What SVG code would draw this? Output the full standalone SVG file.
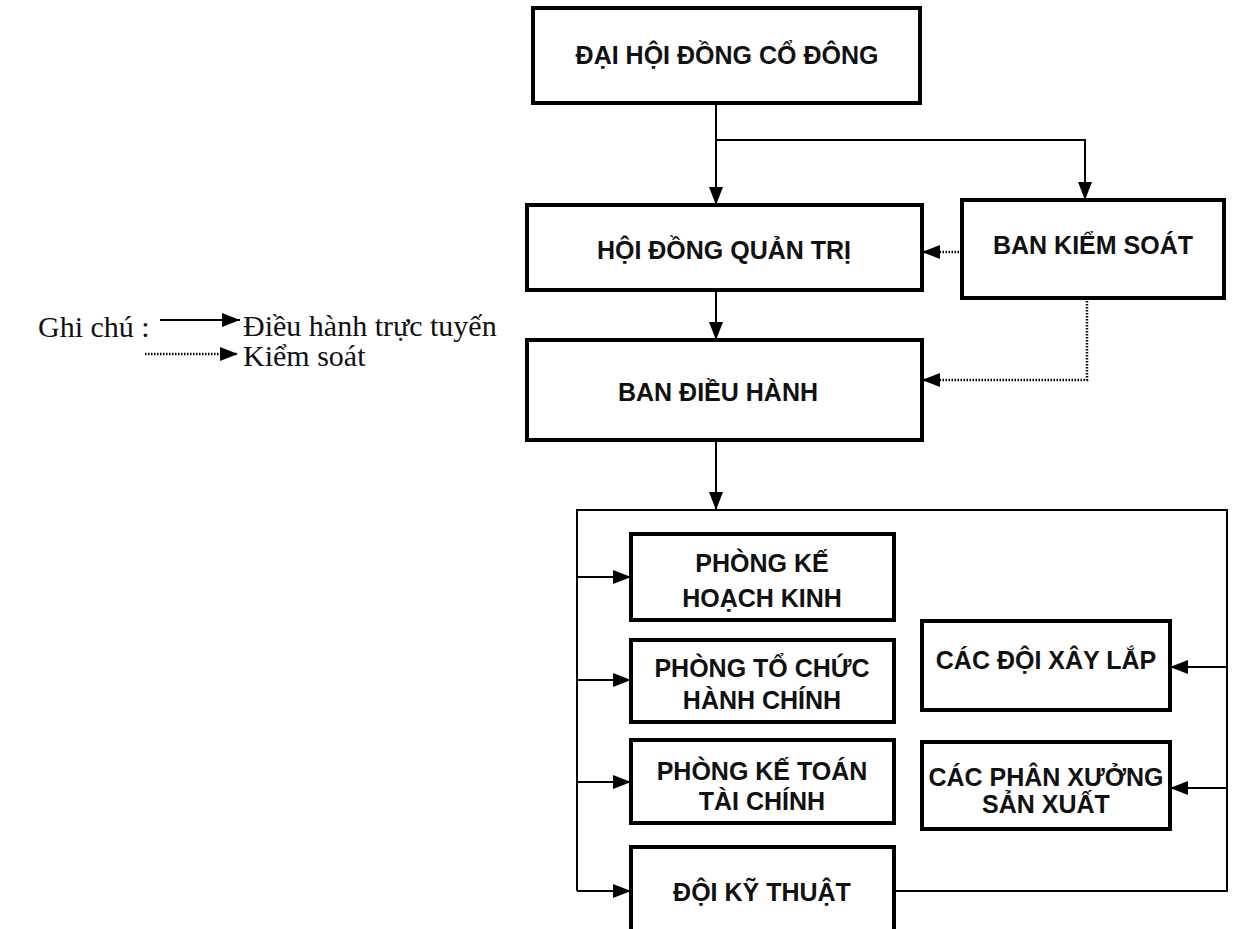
<svg xmlns="http://www.w3.org/2000/svg" width="1248" height="929" viewBox="0 0 1248 929">
<style>
.box{fill:#fff;stroke:#000;stroke-width:4}
.t{font-family:"Liberation Sans",Arial,sans-serif;font-weight:bold;font-size:25px;fill:#111;text-anchor:middle}
.lg{font-family:"Liberation Serif","Times New Roman",serif;font-size:30px;fill:#111}
.c{fill:none;stroke:#000;stroke-width:2}
.d{fill:none;stroke:#000;stroke-width:2.5;stroke-dasharray:1.5 1.5}
</style>
<defs>
<marker id="a" markerWidth="18" markerHeight="16" refX="18" refY="8" orient="auto" markerUnits="userSpaceOnUse" viewBox="0 0 18 16">
<path d="M0,1 L18,8 L0,15 Z" fill="#000"/>
</marker>
</defs>
<rect width="1248" height="929" fill="#fff"/>

<g id="legend">
<text class="lg" x="38" y="337">Ghi chú :</text>
<line class="c" x1="160" y1="320" x2="240" y2="320" marker-end="url(#a)"/>
<text class="lg" x="243" y="336">Điều hành trực tuyến</text>
<line class="d" x1="145" y1="354" x2="238" y2="354" marker-end="url(#a)"/>
<text class="lg" x="243" y="366">Kiểm soát</text>
</g>

<g id="connectors">
<polyline class="c" points="716,103 716,205" marker-end="url(#a)"/>
<polyline class="c" points="716,140 1085,140 1085,200" marker-end="url(#a)"/>
<polyline class="d" points="962,252 922,252" marker-end="url(#a)"/>
<polyline class="c" points="716,290 716,340" marker-end="url(#a)"/>
<polyline class="d" points="1087,298 1087,380 922,380" marker-end="url(#a)"/>
<polyline class="c" points="716,440 716,510" marker-end="url(#a)"/>
<polyline class="c" points="577,891 577,510 1227,510 1227,891 894,891"/>
<line class="c" x1="577" y1="577" x2="631" y2="577" marker-end="url(#a)"/>
<line class="c" x1="577" y1="680" x2="631" y2="680" marker-end="url(#a)"/>
<line class="c" x1="577" y1="782" x2="631" y2="782" marker-end="url(#a)"/>
<line class="c" x1="577" y1="891" x2="631" y2="891" marker-end="url(#a)"/>
<line class="c" x1="1227" y1="667" x2="1170" y2="667" marker-end="url(#a)"/>
<line class="c" x1="1227" y1="788" x2="1170" y2="788" marker-end="url(#a)"/>
</g>

<g id="dhdcd">
<rect class="box" x="533" y="8" width="387" height="95"/>
<text class="t" x="727" y="64">ĐẠI HỘI ĐỒNG CỔ ĐÔNG</text>
</g>
<g id="hdqt">
<rect class="box" x="527" y="205" width="395" height="85"/>
<text class="t" x="724" y="259">HỘI ĐỒNG QUẢN TRỊ</text>
</g>
<g id="bks">
<rect class="box" x="962" y="200" width="262" height="98"/>
<text class="t" x="1093" y="254">BAN KIỂM SOÁT</text>
</g>
<g id="bdh">
<rect class="box" x="527" y="340" width="395" height="100"/>
<text class="t" x="718" y="401">BAN ĐIỀU HÀNH</text>
</g>
<g id="pkhk">
<rect class="box" x="631" y="534" width="263" height="86"/>
<text class="t" x="762" y="572">PHÒNG KẾ</text>
<text class="t" x="762" y="607">HOẠCH KINH</text>
</g>
<g id="ptchc">
<rect class="box" x="631" y="640" width="263" height="82"/>
<text class="t" x="762" y="677">PHÒNG TỔ CHỨC</text>
<text class="t" x="762" y="709">HÀNH CHÍNH</text>
</g>
<g id="pktc">
<rect class="box" x="631" y="740" width="263" height="83"/>
<text class="t" x="762" y="780">PHÒNG KẾ TOÁN</text>
<text class="t" x="762" y="810">TÀI CHÍNH</text>
</g>
<g id="dkt">
<rect class="box" x="631" y="847" width="263" height="92"/>
<text class="t" x="762" y="901">ĐỘI KỸ THUẬT</text>
</g>
<g id="cdxl">
<rect class="box" x="922" y="621" width="248" height="89"/>
<text class="t" x="1046" y="669">CÁC ĐỘI XÂY LẮP</text>
</g>
<g id="cpxsx">
<rect class="box" x="922" y="742" width="248" height="87"/>
<text class="t" x="1046" y="786">CÁC PHÂN XƯỞNG</text>
<text class="t" x="1046" y="813">SẢN XUẤT</text>
</g>
</svg>
